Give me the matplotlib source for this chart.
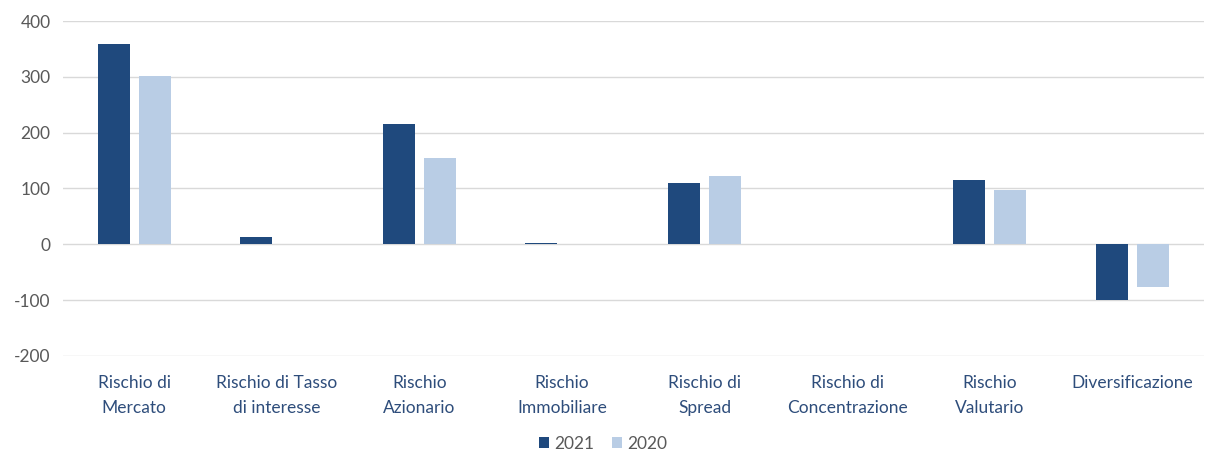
import matplotlib.pyplot as plt
import numpy as np

categorie = ["Rischio di\nMercato", "Rischio di Tasso\ndi interesse", "Rischio\nAzionario",
             "Rischio\nImmobiliare", "Rischio di\nSpread", "Rischio di\nConcentrazione",
             "Rischio\nValutario", "Diversificazione"]
valori_2021 = [359, 14, 215, 3, 109, 0, 116, -100]
valori_2020 = [301, 0, 154, 0, 123, 0, 98, -76]

plt.rcParams['font.family'] = ['Lato', 'DejaVu Sans']
plt.rcParams['axes.unicode_minus'] = False

fig = plt.figure(figsize=(12.06, 4.55), dpi=100)
ax = fig.add_axes([63 / 1206, 1 - 356 / 455, 1 - 63 / 1206 - 0.002, (356 - 21) / 455])

x = np.arange(len(categorie))
w = 0.225
ax.bar(x - 0.145, valori_2021, w, color='#1F497D', label='2021', zorder=3)
ax.bar(x + 0.145, valori_2020, w, color='#B9CDE5', label='2020', zorder=3)

ax.set_xlim(-0.5, len(categorie) - 0.5)
ax.set_ylim(-200, 400)
ax.set_yticks(range(-200, 401, 100))
ax.yaxis.grid(True, color='#D9D9D9', linewidth=1, zorder=0)
for s in ax.spines.values():
    s.set_visible(False)
ax.tick_params(axis='both', length=0, labelsize=12.5, colors='#595959')
ax.tick_params(axis='y', pad=9)
ax.set_xticks(x)
ax.set_xticklabels(categorie, color='#2E4D7B', fontsize=12.5, linespacing=1.65)
ax.tick_params(axis='x', pad=14)

leg = fig.legend(loc='lower center', bbox_to_anchor=(0.5, 0.0), ncol=2, frameon=False,
                 fontsize=12.5, handlelength=0.6, handleheight=0.6, handletextpad=0.3,
                 columnspacing=1.0, borderaxespad=0.1, borderpad=0.1)
for t in leg.get_texts():
    t.set_color('#595959')

fig.savefig('out.png', dpi=100)
